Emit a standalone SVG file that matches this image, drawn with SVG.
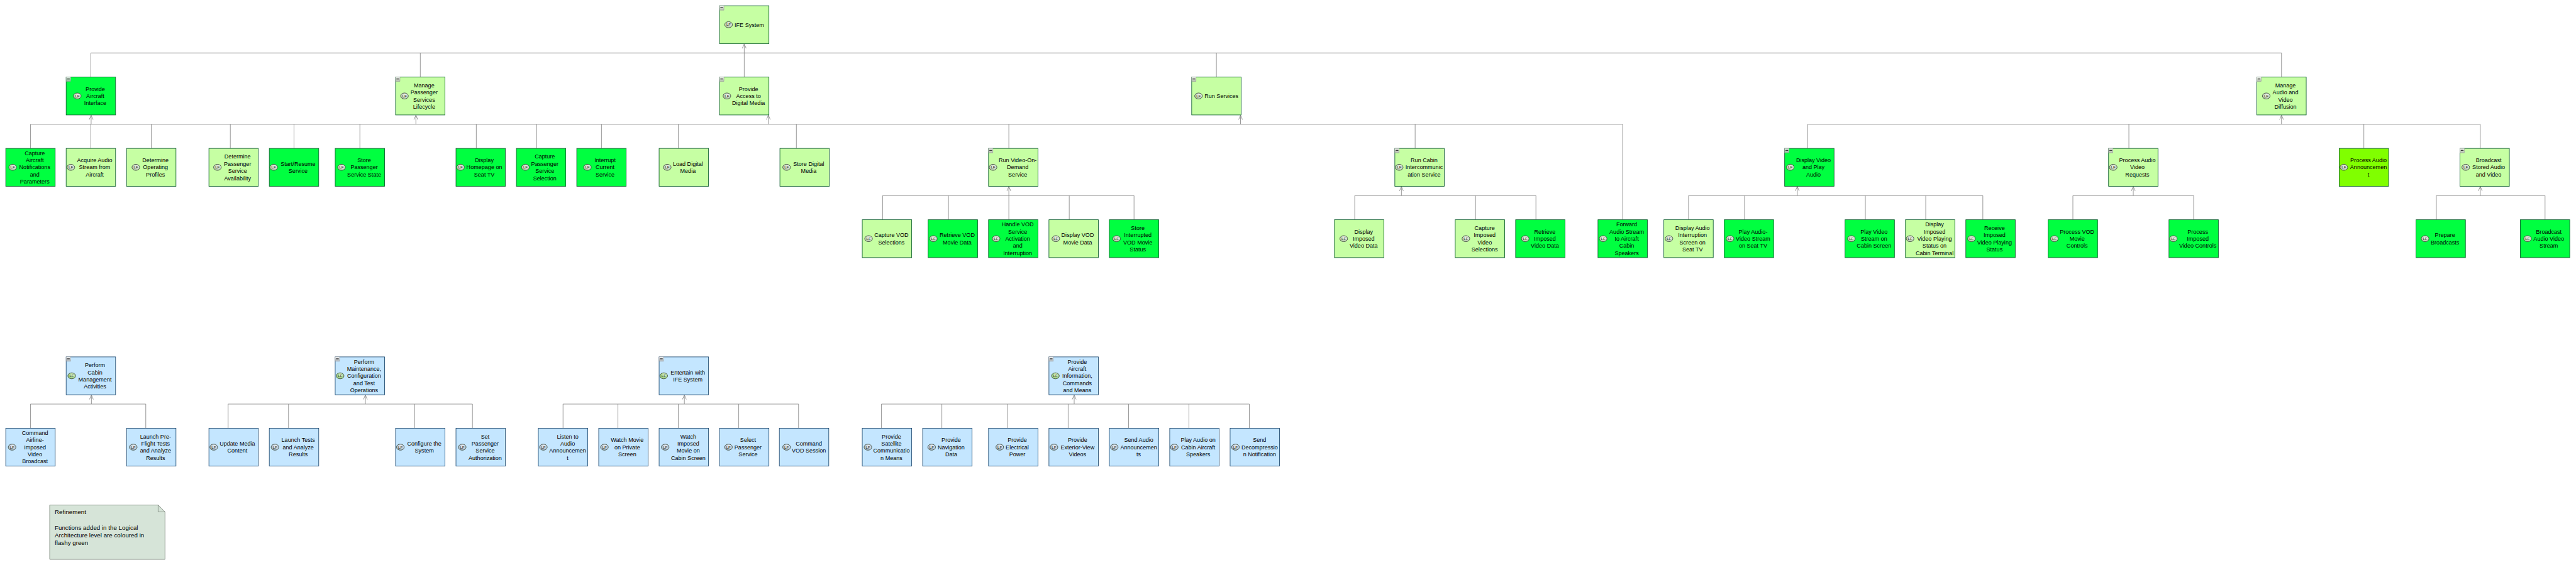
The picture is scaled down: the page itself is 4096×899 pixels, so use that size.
<svg xmlns="http://www.w3.org/2000/svg" width="4096" height="899" viewBox="0 0 4096 899">
<style>
text{font-family:"Liberation Sans",Arial,sans-serif;fill:#000}
.t{font-size:10.4px;text-anchor:middle}
.lf{font-size:7px;text-anchor:middle;fill:#1c2a1c}
.n{font-size:11.2px}
.b{stroke-width:1;width:90px;height:69px}
.lg{fill:#c6ffa3;stroke:#0b5d2c}
.fg{fill:#00ff40;stroke:#0b5d2c}
.yg{fill:#80ff00;stroke:#0b5d2c}
.bl{fill:#c4e6ff;stroke:#1f4a70}
.i{stroke:#3a463a;stroke-width:1}
.ig{fill:url(#ig)}
.ia{fill:url(#ia)}
.ib{fill:url(#ib)}
.c{fill:none;stroke:#888;stroke-width:1}
.s{fill:none;stroke:#888;stroke-width:1;marker-end:url(#arr)}
</style>
<defs>
<marker id="arr" viewBox="-9 -5 10 10" markerWidth="10" markerHeight="10" markerUnits="userSpaceOnUse" refX="0" refY="0" orient="auto"><path d="M-8,-3.5L0,0L-8,3.5" fill="none" stroke="#888" stroke-width="1"/></marker>
<linearGradient id="mg" x1="0" y1="0" x2="0" y2="1"><stop offset="0" stop-color="#fff" stop-opacity=".95"/><stop offset="1" stop-color="#a8a8a8" stop-opacity=".8"/></linearGradient>
<radialGradient id="ig" cx=".6" cy=".35" r=".8"><stop offset="0" stop-color="#f2f7ee"/><stop offset="1" stop-color="#a3ba96"/></radialGradient>
<radialGradient id="ia" cx=".6" cy=".35" r=".8"><stop offset="0" stop-color="#dff3d0"/><stop offset="1" stop-color="#7fc05c"/></radialGradient>
<radialGradient id="ib" cx=".6" cy=".35" r=".8"><stop offset="0" stop-color="#eef3f8"/><stop offset="1" stop-color="#93a8bc"/></radialGradient>
<g id="m"><rect width="8" height="8" fill="url(#mg)" stroke="#999" stroke-width=".6"/><path d="M1.5,3.5H6.5" stroke="#000" stroke-width="1.2"/></g>
</defs>
<g transform="scale(0.873)">
<g id="connectors">
<path class="c" d="M165.5,140V96.5H4155.5V140M765.5,96.5V140M1355.5,96.5V140M2215.5,96.5V140"/>
<path class="s" d="M1355.5,96.5V80"/>
<path class="c" d="M55.5,270V226.5H2955.5V400M165.5,226.5V270M275.5,226.5V270M419.5,226.5V270M535.5,226.5V270M655.5,226.5V270M867.5,226.5V270M977.5,226.5V270M1095.5,226.5V270M1235.5,226.5V270M1450.5,226.5V270M1837.5,226.5V270M2215.5,226.5V226.5M2577.5,226.5V270"/>
<path class="s" d="M166,226.5V210"/>
<path class="s" d="M757.5,226.5V210"/>
<path class="s" d="M1399.5,226.5V210"/>
<path class="s" d="M2259.5,226.5V210"/>
<path class="c" d="M3292.5,270V226.5H4517.5V270M3877.5,226.5V270M4305.5,226.5V270"/>
<path class="s" d="M4155.5,226.5V210"/>
<path class="c" d="M1607.5,400V356.5H2065.5V400M1727.5,356.5V400M1837.5,356.5V400M1947.5,356.5V400"/>
<path class="s" d="M1837.5,356.5V340"/>
<path class="c" d="M2467.5,400V356.5H2797.5V400M2687.5,356.5V400"/>
<path class="s" d="M2552.5,356.5V340"/>
<path class="c" d="M3075.5,400V356.5H3611.5V400M3177.5,356.5V400M3397.5,356.5V400M3507.5,356.5V400"/>
<path class="s" d="M3273.5,356.5V340"/>
<path class="c" d="M3775.5,400V356.5H3995.5V400"/>
<path class="s" d="M3885.5,356.5V340"/>
<path class="c" d="M4437.5,400V356.5H4635.5V400"/>
<path class="s" d="M4517.5,356.5V340"/>
<path class="c" d="M55.5,780V736.5H265.5V780"/>
<path class="s" d="M166.5,736.5V720"/>
<path class="c" d="M415.5,780V736.5H860.5V780M525.5,736.5V780M755.5,736.5V780"/>
<path class="s" d="M665.5,736.5V720"/>
<path class="c" d="M1025.5,780V736.5H1454.5V780M1125.5,736.5V780M1235.5,736.5V780M1345.5,736.5V780"/>
<path class="s" d="M1246.5,736.5V720"/>
<path class="c" d="M1605.5,780V736.5H2275.5V780M1715.5,736.5V780M1835.5,736.5V780M1945.5,736.5V780M2055.5,736.5V780M2165.5,736.5V780"/>
<path class="s" d="M1956.5,736.5V720"/>
</g>
<g id="ife-system"><rect class="b lg" x="1310.5" y="10.5"/><use href="#m" x="1310.5" y="10.5"/><ellipse class="i ig" cx="1327" cy="45" rx="7" ry="5.5"/><text class="lf" x="1327" y="47.5">LF</text><text class="t" y="48.7"><tspan x="1364.8">IFE System</tspan></text></g>
<g id="provide-aircraft-interface"><rect class="b fg" x="120.5" y="140.5"/><use href="#m" x="120.5" y="140.5"/><ellipse class="i ig" cx="140.8" cy="175" rx="7" ry="5.5"/><text class="lf" x="140.8" y="177.5">LF</text><text class="t" y="165.7"><tspan x="173.5">Provide</tspan><tspan x="173.5" dy="13">Aircraft</tspan><tspan x="173.5" dy="13">Interface</tspan></text></g>
<g id="manage-passenger-services"><rect class="b lg" x="720.5" y="140.5"/><use href="#m" x="720.5" y="140.5"/><ellipse class="i ig" cx="736.7" cy="175" rx="7" ry="5.5"/><text class="lf" x="736.7" y="177.5">LF</text><text class="t" y="159.2"><tspan x="772.4">Manage</tspan><tspan x="772.4" dy="13">Passenger</tspan><tspan x="772.4" dy="13">Services</tspan><tspan x="772.4" dy="13">Lifecycle</tspan></text></g>
<g id="provide-access"><rect class="b lg" x="1310.5" y="140.5"/><use href="#m" x="1310.5" y="140.5"/><ellipse class="i ig" cx="1324" cy="175" rx="7" ry="5.5"/><text class="lf" x="1324" y="177.5">LF</text><text class="t" y="165.7"><tspan x="1363.3">Provide</tspan><tspan x="1363.3" dy="13">Access to</tspan><tspan x="1363.3" dy="13">Digital Media</tspan></text></g>
<g id="run-services"><rect class="b lg" x="2170.5" y="140.5"/><use href="#m" x="2170.5" y="140.5"/><ellipse class="i ig" cx="2183" cy="175" rx="7" ry="5.5"/><text class="lf" x="2183" y="177.5">LF</text><text class="t" y="178.7"><tspan x="2224.7">Run Services</tspan></text></g>
<g id="manage-audio-video"><rect class="b lg" x="4110.5" y="140.5"/><use href="#m" x="4110.5" y="140.5"/><ellipse class="i ig" cx="4127.7" cy="175" rx="7" ry="5.5"/><text class="lf" x="4127.7" y="177.5">LF</text><text class="t" y="159.2"><tspan x="4162.7">Manage</tspan><tspan x="4162.7" dy="13">Audio and</tspan><tspan x="4162.7" dy="13">Video</tspan><tspan x="4162.7" dy="13">Diffusion</tspan></text></g>
<g id="capture-aircraft"><rect class="b fg" x="10.5" y="270.5"/><ellipse class="i ig" cx="23" cy="305" rx="7" ry="5.5"/><text class="lf" x="23" y="307.5">LF</text><text class="t" y="282.7"><tspan x="63.3">Capture</tspan><tspan x="63.3" dy="13">Aircraft</tspan><tspan x="63.3" dy="13">Notifications</tspan><tspan x="63.3" dy="13">and</tspan><tspan x="63.3" dy="13">Parameters</tspan></text></g>
<g id="acquire-audio"><rect class="b lg" x="120.5" y="270.5"/><ellipse class="i ig" cx="129" cy="305" rx="7" ry="5.5"/><text class="lf" x="129" y="307.5">LF</text><text class="t" y="295.7"><tspan x="172.4">Acquire Audio</tspan><tspan x="172.4" dy="13">Stream from</tspan><tspan x="172.4" dy="13">Aircraft</tspan></text></g>
<g id="determine-operating"><rect class="b lg" x="230.5" y="270.5"/><ellipse class="i ig" cx="247.4" cy="305" rx="7" ry="5.5"/><text class="lf" x="247.4" y="307.5">LF</text><text class="t" y="295.7"><tspan x="283.2">Determine</tspan><tspan x="283.2" dy="13">Operating</tspan><tspan x="283.2" dy="13">Profiles</tspan></text></g>
<g id="determine-passenger"><rect class="b lg" x="380.5" y="270.5"/><ellipse class="i ig" cx="396" cy="305" rx="7" ry="5.5"/><text class="lf" x="396" y="307.5">LF</text><text class="t" y="289.2"><tspan x="432.7">Determine</tspan><tspan x="432.7" dy="13">Passenger</tspan><tspan x="432.7" dy="13">Service</tspan><tspan x="432.7" dy="13">Availability</tspan></text></g>
<g id="start-resume"><rect class="b fg" x="490.5" y="270.5"/><ellipse class="i ig" cx="498.5" cy="305" rx="7" ry="5.5"/><text class="lf" x="498.5" y="307.5">LF</text><text class="t" y="302.2"><tspan x="542.9">Start/Resume</tspan><tspan x="542.9" dy="13">Service</tspan></text></g>
<g id="store-passenger"><rect class="b fg" x="610.5" y="270.5"/><ellipse class="i ig" cx="622" cy="305" rx="7" ry="5.5"/><text class="lf" x="622" y="307.5">LF</text><text class="t" y="295.7"><tspan x="663.3">Store</tspan><tspan x="663.3" dy="13">Passenger</tspan><tspan x="663.3" dy="13">Service State</tspan></text></g>
<g id="display-homepage"><rect class="b fg" x="830.5" y="270.5"/><ellipse class="i ig" cx="838.8" cy="305" rx="7" ry="5.5"/><text class="lf" x="838.8" y="307.5">LF</text><text class="t" y="295.7"><tspan x="882.1">Display</tspan><tspan x="882.1" dy="13">Homepage on</tspan><tspan x="882.1" dy="13">Seat TV</tspan></text></g>
<g id="capture-passenger"><rect class="b fg" x="940.5" y="270.5"/><ellipse class="i ig" cx="957" cy="305" rx="7" ry="5.5"/><text class="lf" x="957" y="307.5">LF</text><text class="t" y="289.2"><tspan x="992.3">Capture</tspan><tspan x="992.3" dy="13">Passenger</tspan><tspan x="992.3" dy="13">Service</tspan><tspan x="992.3" dy="13">Selection</tspan></text></g>
<g id="interrupt-service"><rect class="b fg" x="1050.5" y="270.5"/><ellipse class="i ig" cx="1069.9" cy="305" rx="7" ry="5.5"/><text class="lf" x="1069.9" y="307.5">LF</text><text class="t" y="295.7"><tspan x="1102">Interrupt</tspan><tspan x="1102" dy="13">Current</tspan><tspan x="1102" dy="13">Service</tspan></text></g>
<g id="load-digital"><rect class="b lg" x="1200.5" y="270.5"/><ellipse class="i ig" cx="1215.3" cy="305" rx="7" ry="5.5"/><text class="lf" x="1215.3" y="307.5">LF</text><text class="t" y="302.2"><tspan x="1253">Load Digital</tspan><tspan x="1253" dy="13">Media</tspan></text></g>
<g id="store-digital"><rect class="b lg" x="1420.5" y="270.5"/><ellipse class="i ig" cx="1432.7" cy="305" rx="7" ry="5.5"/><text class="lf" x="1432.7" y="307.5">LF</text><text class="t" y="302.2"><tspan x="1473">Store Digital</tspan><tspan x="1473" dy="13">Media</tspan></text></g>
<g id="run-vod"><rect class="b lg" x="1800.5" y="270.5"/><use href="#m" x="1800.5" y="270.5"/><ellipse class="i ig" cx="1808.7" cy="305" rx="7" ry="5.5"/><text class="lf" x="1808.7" y="307.5">LF</text><text class="t" y="295.7"><tspan x="1853.6">Run Video-On-</tspan><tspan x="1853.6" dy="13">Demand</tspan><tspan x="1853.6" dy="13">Service</tspan></text></g>
<g id="run-cabin"><rect class="b lg" x="2540.5" y="270.5"/><use href="#m" x="2540.5" y="270.5"/><ellipse class="i ig" cx="2548.5" cy="305" rx="7" ry="5.5"/><text class="lf" x="2548.5" y="307.5">LF</text><text class="t" y="295.7"><tspan x="2593.9">Run Cabin</tspan><tspan x="2593.9" dy="13">Intercommunic</tspan><tspan x="2593.9" dy="13">ation Service</tspan></text></g>
<g id="display-video-play-audio"><rect class="b fg" x="3250.5" y="270.5"/><use href="#m" x="3250.5" y="270.5"/><ellipse class="i ig" cx="3260.7" cy="305" rx="7" ry="5.5"/><text class="lf" x="3260.7" y="307.5">LF</text><text class="t" y="295.7"><tspan x="3303">Display Video</tspan><tspan x="3303" dy="13">and Play</tspan><tspan x="3303" dy="13">Audio</tspan></text></g>
<g id="process-av-requests"><rect class="b lg" x="3840.5" y="270.5"/><use href="#m" x="3840.5" y="270.5"/><ellipse class="i ig" cx="3849" cy="305" rx="7" ry="5.5"/><text class="lf" x="3849" y="307.5">LF</text><text class="t" y="295.7"><tspan x="3892.9">Process Audio</tspan><tspan x="3892.9" dy="13">Video</tspan><tspan x="3892.9" dy="13">Requests</tspan></text></g>
<g id="process-audio-announcement"><rect class="b yg" x="4260.5" y="270.5"/><ellipse class="i ig" cx="4269" cy="305" rx="7" ry="5.5"/><text class="lf" x="4269" y="307.5">LF</text><text class="t" y="295.7"><tspan x="4313.9">Process Audio</tspan><tspan x="4313.9" dy="13">Announcemen</tspan><tspan x="4313.9" dy="13">t</tspan></text></g>
<g id="broadcast-stored"><rect class="b lg" x="4480.5" y="270.5"/><use href="#m" x="4480.5" y="270.5"/><ellipse class="i ig" cx="4491" cy="305" rx="7" ry="5.5"/><text class="lf" x="4491" y="307.5">LF</text><text class="t" y="295.7"><tspan x="4532.7">Broadcast</tspan><tspan x="4532.7" dy="13">Stored Audio</tspan><tspan x="4532.7" dy="13">and Video</tspan></text></g>
<g id="capture-vod"><rect class="b lg" x="1570.5" y="400.5"/><ellipse class="i ig" cx="1582" cy="435" rx="7" ry="5.5"/><text class="lf" x="1582" y="437.5">LF</text><text class="t" y="432.2"><tspan x="1623.6">Capture VOD</tspan><tspan x="1623.6" dy="13">Selections</tspan></text></g>
<g id="retrieve-vod"><rect class="b fg" x="1690.5" y="400.5"/><ellipse class="i ig" cx="1700" cy="435" rx="7" ry="5.5"/><text class="lf" x="1700" y="437.5">LF</text><text class="t" y="432.2"><tspan x="1743.4">Retrieve VOD</tspan><tspan x="1743.4" dy="13">Movie Data</tspan></text></g>
<g id="handle-vod"><rect class="b fg" x="1800.5" y="400.5"/><ellipse class="i ig" cx="1814.3" cy="435" rx="7" ry="5.5"/><text class="lf" x="1814.3" y="437.5">LF</text><text class="t" y="412.7"><tspan x="1853.6">Handle VOD</tspan><tspan x="1853.6" dy="13">Service</tspan><tspan x="1853.6" dy="13">Activation</tspan><tspan x="1853.6" dy="13">and</tspan><tspan x="1853.6" dy="13">Interruption</tspan></text></g>
<g id="display-vod"><rect class="b lg" x="1910.5" y="400.5"/><ellipse class="i ig" cx="1923" cy="435" rx="7" ry="5.5"/><text class="lf" x="1923" y="437.5">LF</text><text class="t" y="432.2"><tspan x="1962.8">Display VOD</tspan><tspan x="1962.8" dy="13">Movie Data</tspan></text></g>
<g id="store-interrupted"><rect class="b fg" x="2020.5" y="400.5"/><ellipse class="i ig" cx="2033.7" cy="435" rx="7" ry="5.5"/><text class="lf" x="2033.7" y="437.5">LF</text><text class="t" y="419.2"><tspan x="2072.4">Store</tspan><tspan x="2072.4" dy="13">Interrupted</tspan><tspan x="2072.4" dy="13">VOD Movie</tspan><tspan x="2072.4" dy="13">Status</tspan></text></g>
<g id="display-imposed"><rect class="b lg" x="2430.5" y="400.5"/><ellipse class="i ig" cx="2447.4" cy="435" rx="7" ry="5.5"/><text class="lf" x="2447.4" y="437.5">LF</text><text class="t" y="425.7"><tspan x="2483.7">Display</tspan><tspan x="2483.7" dy="13">Imposed</tspan><tspan x="2483.7" dy="13">Video Data</tspan></text></g>
<g id="capture-imposed"><rect class="b lg" x="2650.5" y="400.5"/><ellipse class="i ig" cx="2669.9" cy="435" rx="7" ry="5.5"/><text class="lf" x="2669.9" y="437.5">LF</text><text class="t" y="419.2"><tspan x="2704.1">Capture</tspan><tspan x="2704.1" dy="13">Imposed</tspan><tspan x="2704.1" dy="13">Video</tspan><tspan x="2704.1" dy="13">Selections</tspan></text></g>
<g id="retrieve-imposed"><rect class="b fg" x="2760.5" y="400.5"/><ellipse class="i ig" cx="2778" cy="435" rx="7" ry="5.5"/><text class="lf" x="2778" y="437.5">LF</text><text class="t" y="425.7"><tspan x="2813.8">Retrieve</tspan><tspan x="2813.8" dy="13">Imposed</tspan><tspan x="2813.8" dy="13">Video Data</tspan></text></g>
<g id="forward-audio"><rect class="b fg" x="2910.5" y="400.5"/><ellipse class="i ig" cx="2919.9" cy="435" rx="7" ry="5.5"/><text class="lf" x="2919.9" y="437.5">LF</text><text class="t" y="412.7"><tspan x="2962.8">Forward</tspan><tspan x="2962.8" dy="13">Audio Stream</tspan><tspan x="2962.8" dy="13">to Aircraft</tspan><tspan x="2962.8" dy="13">Cabin</tspan><tspan x="2962.8" dy="13">Speakers</tspan></text></g>
<g id="display-audio-interruption"><rect class="b lg" x="3030.5" y="400.5"/><ellipse class="i ig" cx="3039.8" cy="435" rx="7" ry="5.5"/><text class="lf" x="3039.8" y="437.5">LF</text><text class="t" y="419.2"><tspan x="3082.7">Display Audio</tspan><tspan x="3082.7" dy="13">Interruption</tspan><tspan x="3082.7" dy="13">Screen on</tspan><tspan x="3082.7" dy="13">Seat TV</tspan></text></g>
<g id="play-audio-video-seat"><rect class="b fg" x="3140.5" y="400.5"/><ellipse class="i ig" cx="3151" cy="435" rx="7" ry="5.5"/><text class="lf" x="3151" y="437.5">LF</text><text class="t" y="425.7"><tspan x="3193">Play Audio-</tspan><tspan x="3193" dy="13">Video Stream</tspan><tspan x="3193" dy="13">on Seat TV</tspan></text></g>
<g id="play-video-cabin"><rect class="b fg" x="3360.5" y="400.5"/><ellipse class="i ig" cx="3372" cy="435" rx="7" ry="5.5"/><text class="lf" x="3372" y="437.5">LF</text><text class="t" y="425.7"><tspan x="3413.3">Play Video</tspan><tspan x="3413.3" dy="13">Stream on</tspan><tspan x="3413.3" dy="13">Cabin Screen</tspan></text></g>
<g id="display-imposed-status"><rect class="b lg" x="3470.5" y="400.5"/><ellipse class="i ig" cx="3479" cy="435" rx="7" ry="5.5"/><text class="lf" x="3479" y="437.5">LF</text><text class="t" y="412.7"><tspan x="3523.5">Display</tspan><tspan x="3523.5" dy="13">Imposed</tspan><tspan x="3523.5" dy="13">Video Playing</tspan><tspan x="3523.5" dy="13">Status on</tspan><tspan x="3523.5" dy="13">Cabin Terminal</tspan></text></g>
<g id="receive-imposed-status"><rect class="b fg" x="3580.5" y="400.5"/><ellipse class="i ig" cx="3590.8" cy="435" rx="7" ry="5.5"/><text class="lf" x="3590.8" y="437.5">LF</text><text class="t" y="419.2"><tspan x="3632.7">Receive</tspan><tspan x="3632.7" dy="13">Imposed</tspan><tspan x="3632.7" dy="13">Video Playing</tspan><tspan x="3632.7" dy="13">Status</tspan></text></g>
<g id="process-vod-controls"><rect class="b fg" x="3730.5" y="400.5"/><ellipse class="i ig" cx="3741.8" cy="435" rx="7" ry="5.5"/><text class="lf" x="3741.8" y="437.5">LF</text><text class="t" y="425.7"><tspan x="3783.2">Process VOD</tspan><tspan x="3783.2" dy="13">Movie</tspan><tspan x="3783.2" dy="13">Controls</tspan></text></g>
<g id="process-imposed-controls"><rect class="b fg" x="3950.5" y="400.5"/><ellipse class="i ig" cx="3958.5" cy="435" rx="7" ry="5.5"/><text class="lf" x="3958.5" y="437.5">LF</text><text class="t" y="425.7"><tspan x="4003">Process</tspan><tspan x="4003" dy="13">Imposed</tspan><tspan x="4003" dy="13">Video Controls</tspan></text></g>
<g id="prepare-broadcasts"><rect class="b fg" x="4400.5" y="400.5"/><ellipse class="i ig" cx="4417" cy="435" rx="7" ry="5.5"/><text class="lf" x="4417" y="437.5">LF</text><text class="t" y="432.2"><tspan x="4453.3">Prepare</tspan><tspan x="4453.3" dy="13">Broadcasts</tspan></text></g>
<g id="broadcast-av-stream"><rect class="b fg" x="4590.5" y="400.5"/><ellipse class="i ig" cx="4603.6" cy="435" rx="7" ry="5.5"/><text class="lf" x="4603.6" y="437.5">LF</text><text class="t" y="425.7"><tspan x="4642.3">Broadcast</tspan><tspan x="4642.3" dy="13">Audio Video</tspan><tspan x="4642.3" dy="13">Stream</tspan></text></g>
<g id="perform-cabin"><rect class="b bl" x="120.5" y="650.5"/><use href="#m" x="120.5" y="650.5"/><ellipse class="i ia" cx="130.6" cy="685" rx="7" ry="5.5"/><text class="lf" x="130.6" y="687.5">LF</text><text class="t" y="669.2"><tspan x="173">Perform</tspan><tspan x="173" dy="13">Cabin</tspan><tspan x="173" dy="13">Management</tspan><tspan x="173" dy="13">Activities</tspan></text></g>
<g id="perform-maintenance"><rect class="b bl" x="610.5" y="650.5"/><use href="#m" x="610.5" y="650.5"/><ellipse class="i ia" cx="619.5" cy="685" rx="7" ry="5.5"/><text class="lf" x="619.5" y="687.5">LF</text><text class="t" y="662.7"><tspan x="663.1">Perform</tspan><tspan x="663.1" dy="13">Maintenance,</tspan><tspan x="663.1" dy="13">Configuration</tspan><tspan x="663.1" dy="13">and Test</tspan><tspan x="663.1" dy="13">Operations</tspan></text></g>
<g id="entertain"><rect class="b bl" x="1200.5" y="650.5"/><use href="#m" x="1200.5" y="650.5"/><ellipse class="i ia" cx="1208.9" cy="685" rx="7" ry="5.5"/><text class="lf" x="1208.9" y="687.5">LF</text><text class="t" y="682.2"><tspan x="1252.7">Entertain with</tspan><tspan x="1252.7" dy="13">IFE System</tspan></text></g>
<g id="provide-aircraft-information"><rect class="b bl" x="1910.5" y="650.5"/><use href="#m" x="1910.5" y="650.5"/><ellipse class="i ia" cx="1922.3" cy="685" rx="7" ry="5.5"/><text class="lf" x="1922.3" y="687.5">LF</text><text class="t" y="662.7"><tspan x="1962.1">Provide</tspan><tspan x="1962.1" dy="13">Aircraft</tspan><tspan x="1962.1" dy="13">Information,</tspan><tspan x="1962.1" dy="13">Commands</tspan><tspan x="1962.1" dy="13">and Means</tspan></text></g>
<g id="command-airline"><rect class="b bl" x="10.5" y="780.5"/><ellipse class="i ib" cx="22" cy="815" rx="7" ry="5.5"/><text class="lf" x="22" y="817.5">LF</text><text class="t" y="792.7"><tspan x="63.7">Command</tspan><tspan x="63.7" dy="13">Airline-</tspan><tspan x="63.7" dy="13">Imposed</tspan><tspan x="63.7" dy="13">Video</tspan><tspan x="63.7" dy="13">Broadcast</tspan></text></g>
<g id="launch-preflight"><rect class="b bl" x="230.5" y="780.5"/><ellipse class="i ib" cx="242.7" cy="815" rx="7" ry="5.5"/><text class="lf" x="242.7" y="817.5">LF</text><text class="t" y="799.2"><tspan x="283.3">Launch Pre-</tspan><tspan x="283.3" dy="13">Flight Tests</tspan><tspan x="283.3" dy="13">and Analyze</tspan><tspan x="283.3" dy="13">Results</tspan></text></g>
<g id="update-media"><rect class="b bl" x="380.5" y="780.5"/><ellipse class="i ib" cx="389.3" cy="815" rx="7" ry="5.5"/><text class="lf" x="389.3" y="817.5">LF</text><text class="t" y="812.2"><tspan x="432.3">Update Media</tspan><tspan x="432.3" dy="13">Content</tspan></text></g>
<g id="launch-tests"><rect class="b bl" x="490.5" y="780.5"/><ellipse class="i ib" cx="500.8" cy="815" rx="7" ry="5.5"/><text class="lf" x="500.8" y="817.5">LF</text><text class="t" y="805.7"><tspan x="543.2">Launch Tests</tspan><tspan x="543.2" dy="13">and Analyze</tspan><tspan x="543.2" dy="13">Results</tspan></text></g>
<g id="configure-system"><rect class="b bl" x="720.5" y="780.5"/><ellipse class="i ib" cx="729.2" cy="815" rx="7" ry="5.5"/><text class="lf" x="729.2" y="817.5">LF</text><text class="t" y="812.2"><tspan x="772.8">Configure the</tspan><tspan x="772.8" dy="13">System</tspan></text></g>
<g id="set-passenger"><rect class="b bl" x="830.5" y="780.5"/><ellipse class="i ib" cx="841.9" cy="815" rx="7" ry="5.5"/><text class="lf" x="841.9" y="817.5">LF</text><text class="t" y="799.2"><tspan x="883.7">Set</tspan><tspan x="883.7" dy="13">Passenger</tspan><tspan x="883.7" dy="13">Service</tspan><tspan x="883.7" dy="13">Authorization</tspan></text></g>
<g id="listen-audio"><rect class="b bl" x="980.5" y="780.5"/><ellipse class="i ib" cx="989.7" cy="815" rx="7" ry="5.5"/><text class="lf" x="989.7" y="817.5">LF</text><text class="t" y="799.2"><tspan x="1033.9">Listen to</tspan><tspan x="1033.9" dy="13">Audio</tspan><tspan x="1033.9" dy="13">Announcemen</tspan><tspan x="1033.9" dy="13">t</tspan></text></g>
<g id="watch-movie"><rect class="b bl" x="1090.5" y="780.5"/><ellipse class="i ib" cx="1100.9" cy="815" rx="7" ry="5.5"/><text class="lf" x="1100.9" y="817.5">LF</text><text class="t" y="805.7"><tspan x="1142.4">Watch Movie</tspan><tspan x="1142.4" dy="13">on Private</tspan><tspan x="1142.4" dy="13">Screen</tspan></text></g>
<g id="watch-imposed"><rect class="b bl" x="1200.5" y="780.5"/><ellipse class="i ib" cx="1211.6" cy="815" rx="7" ry="5.5"/><text class="lf" x="1211.6" y="817.5">LF</text><text class="t" y="799.2"><tspan x="1253.6">Watch</tspan><tspan x="1253.6" dy="13">Imposed</tspan><tspan x="1253.6" dy="13">Movie on</tspan><tspan x="1253.6" dy="13">Cabin Screen</tspan></text></g>
<g id="select-passenger"><rect class="b bl" x="1310.5" y="780.5"/><ellipse class="i ib" cx="1326.8" cy="815" rx="7" ry="5.5"/><text class="lf" x="1326.8" y="817.5">LF</text><text class="t" y="805.7"><tspan x="1362.5">Select</tspan><tspan x="1362.5" dy="13">Passenger</tspan><tspan x="1362.5" dy="13">Service</tspan></text></g>
<g id="command-vod"><rect class="b bl" x="1419.5" y="780.5"/><ellipse class="i ib" cx="1432.6" cy="815" rx="7" ry="5.5"/><text class="lf" x="1432.6" y="817.5">LF</text><text class="t" y="812.2"><tspan x="1473.2">Command</tspan><tspan x="1473.2" dy="13">VOD Session</tspan></text></g>
<g id="provide-satellite"><rect class="b bl" x="1570.5" y="780.5"/><ellipse class="i ib" cx="1580.8" cy="815" rx="7" ry="5.5"/><text class="lf" x="1580.8" y="817.5">LF</text><text class="t" y="799.2"><tspan x="1623.7">Provide</tspan><tspan x="1623.7" dy="13">Satellite</tspan><tspan x="1623.7" dy="13">Communicatio</tspan><tspan x="1623.7" dy="13">n Means</tspan></text></g>
<g id="provide-navigation"><rect class="b bl" x="1680.5" y="780.5"/><ellipse class="i ib" cx="1696.9" cy="815" rx="7" ry="5.5"/><text class="lf" x="1696.9" y="817.5">LF</text><text class="t" y="805.7"><tspan x="1732.5">Provide</tspan><tspan x="1732.5" dy="13">Navigation</tspan><tspan x="1732.5" dy="13">Data</tspan></text></g>
<g id="provide-electrical"><rect class="b bl" x="1800.5" y="780.5"/><ellipse class="i ib" cx="1820.9" cy="815" rx="7" ry="5.5"/><text class="lf" x="1820.9" y="817.5">LF</text><text class="t" y="805.7"><tspan x="1852.8">Provide</tspan><tspan x="1852.8" dy="13">Electrical</tspan><tspan x="1852.8" dy="13">Power</tspan></text></g>
<g id="provide-exterior"><rect class="b bl" x="1910.5" y="780.5"/><ellipse class="i ib" cx="1919.7" cy="815" rx="7" ry="5.5"/><text class="lf" x="1919.7" y="817.5">LF</text><text class="t" y="805.7"><tspan x="1962.6">Provide</tspan><tspan x="1962.6" dy="13">Exterior-View</tspan><tspan x="1962.6" dy="13">Videos</tspan></text></g>
<g id="send-audio"><rect class="b bl" x="2020.5" y="780.5"/><ellipse class="i ib" cx="2029.5" cy="815" rx="7" ry="5.5"/><text class="lf" x="2029.5" y="817.5">LF</text><text class="t" y="805.7"><tspan x="2074">Send Audio</tspan><tspan x="2074" dy="13">Announcemen</tspan><tspan x="2074" dy="13">ts</tspan></text></g>
<g id="play-audio-cabin"><rect class="b bl" x="2130.5" y="780.5"/><ellipse class="i ib" cx="2138.8" cy="815" rx="7" ry="5.5"/><text class="lf" x="2138.8" y="817.5">LF</text><text class="t" y="805.7"><tspan x="2182.3">Play Audio on</tspan><tspan x="2182.3" dy="13">Cabin Aircraft</tspan><tspan x="2182.3" dy="13">Speakers</tspan></text></g>
<g id="send-decompression"><rect class="b bl" x="2240.5" y="780.5"/><ellipse class="i ib" cx="2250.2" cy="815" rx="7" ry="5.5"/><text class="lf" x="2250.2" y="817.5">LF</text><text class="t" y="805.7"><tspan x="2294.2">Send</tspan><tspan x="2294.2" dy="13">Decompressio</tspan><tspan x="2294.2" dy="13">n Notification</tspan></text></g>
<g id="note"><path d="M90.5,920.5H288L300.5,933V1019.5H90.5Z" fill="#d6e4d8" stroke="#7f8a80"/><path d="M288,920.5V933H300.5" fill="none" stroke="#7f8a80"/><text class="n" y="937.5"><tspan x="99.7">Refinement</tspan><tspan x="99.7" y="965.5">Functions added in the Logical</tspan><tspan x="99.7" y="979.5">Architecture level are coloured in</tspan><tspan x="99.7" y="993.5">flashy green</tspan></text></g>
</g>
</svg>
